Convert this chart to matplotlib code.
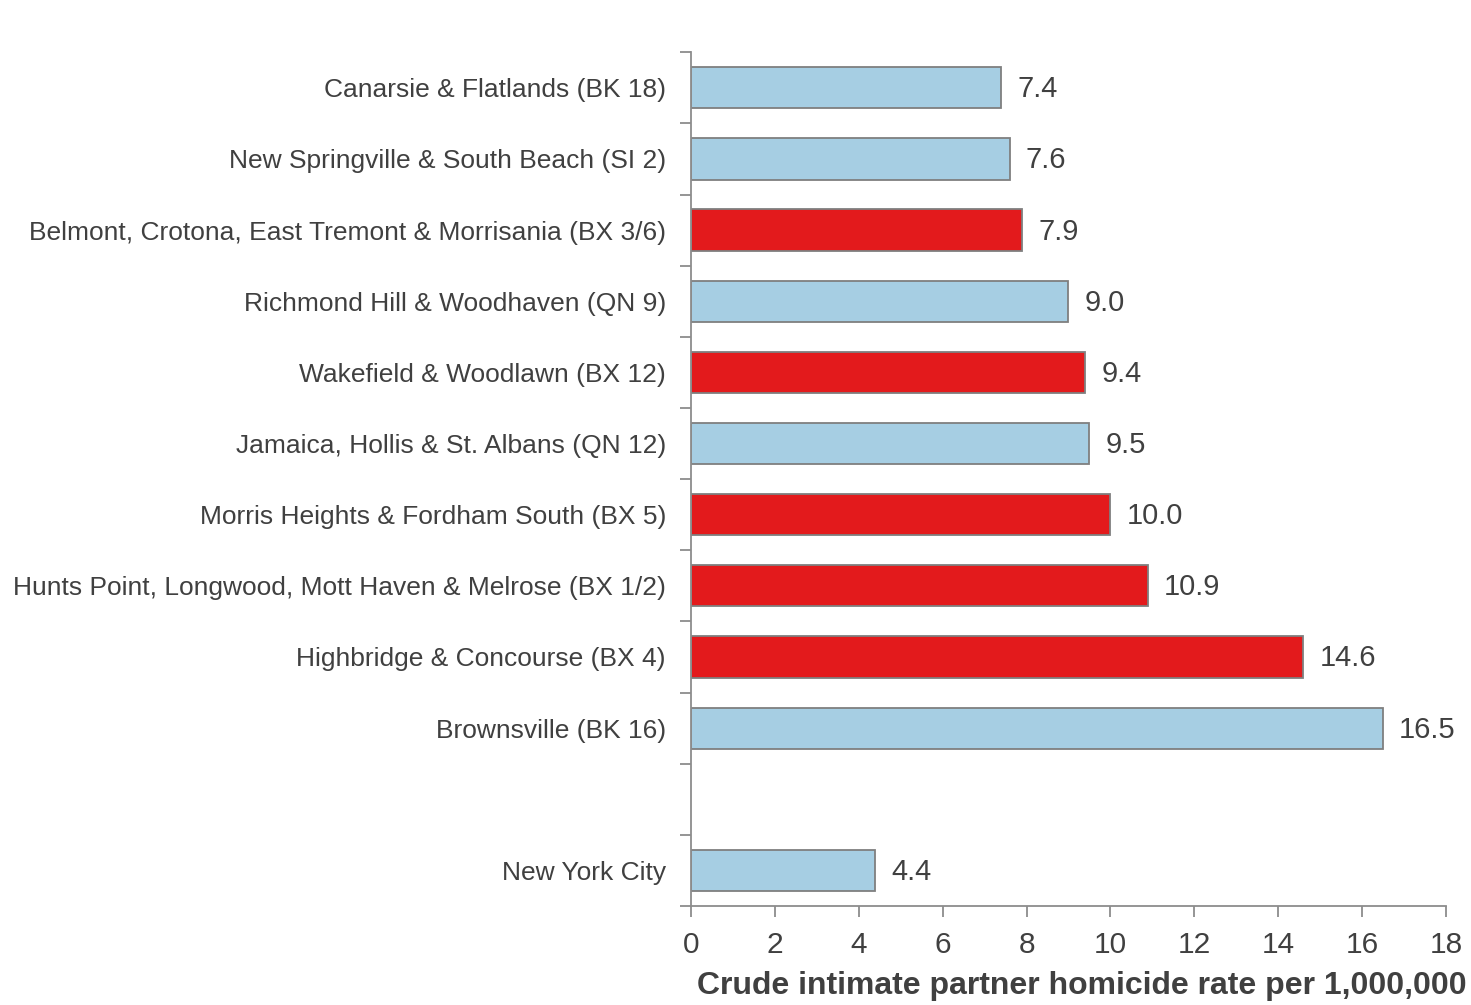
import matplotlib
matplotlib.use("Agg")
import matplotlib.pyplot as plt
import numpy as np

plt.rcParams['font.family'] = ['Liberation Sans', 'DejaVu Sans']

categories = [
    "Canarsie & Flatlands (BK 18)",
    "New Springville & South Beach (SI 2)",
    "Belmont, Crotona, East Tremont & Morrisania (BX 3/6)",
    "Richmond Hill & Woodhaven (QN 9)",
    "Wakefield & Woodlawn (BX 12)",
    "Jamaica, Hollis & St. Albans (QN 12)",
    "Morris Heights & Fordham South (BX 5)",
    "Hunts Point, Longwood, Mott Haven & Melrose (BX 1/2)",
    "Highbridge & Concourse (BX 4)",
    "Brownsville (BK 16)",
    "",
    "New York City",
]
values = [7.4, 7.6, 7.9, 9.0, 9.4, 9.5, 10.0, 10.9, 14.6, 16.5, None, 4.4]
is_bronx = [False, False, True, False, True, False, True, True, True, False, False, False]

x_ticks = [0, 2, 4, 6, 8, 10, 12, 14, 16, 18]
x_label = "Crude intimate partner homicide rate per 1,000,000"

BLUE = "#A6CEE3"
RED = "#E31A1C"
EDGE = "#7F7F7F"
TEXT = "#404040"
SPINE = "#8C8C8C"

fig = plt.figure(figsize=(14.71, 10.05), dpi=100)
ax = fig.add_axes([0.4697, 0.0985, 0.983 - 0.4697, 0.948 - 0.0985])

ypos = np.arange(len(categories))
for y, v, bx in zip(ypos, values, is_bronx):
    if v is None:
        continue
    ax.barh(y, v, height=0.58, color=RED if bx else BLUE,
            edgecolor=EDGE, linewidth=1.3, zorder=2)
    ax.text(v + 0.38, y + 0.02, f"{v:.1f}", va="center", ha="left",
            fontsize=21, color=TEXT)

ax.set_ylim(len(categories) - 0.5, -0.5)
ax.set_xlim(0, 18)
ax.set_xticks(x_ticks)
ax.set_xticklabels([str(t) for t in x_ticks])

ax.set_yticks(ypos)
ax.set_yticklabels(categories)
ax.set_yticks(np.arange(-0.5, len(categories), 1.0), minor=True)
ax.tick_params(axis="y", which="major", length=0, pad=18, labelsize=19, labelcolor=TEXT)
ax.tick_params(axis="y", which="minor", length=8, width=1.3, color=SPINE, direction="out")
ax.tick_params(axis="x", which="major", length=8, width=1.3, color=SPINE,
               direction="out", labelsize=21.5, labelcolor=TEXT, pad=10)

for side in ("top", "right"):
    ax.spines[side].set_visible(False)
for side in ("left", "bottom"):
    ax.spines[side].set_color(SPINE)
    ax.spines[side].set_linewidth(1.3)

fig.text(0.997, 0.004, x_label, ha="right", va="bottom", fontsize=23,
         fontweight="bold", color=TEXT)

fig.savefig("out.png", dpi=100)
